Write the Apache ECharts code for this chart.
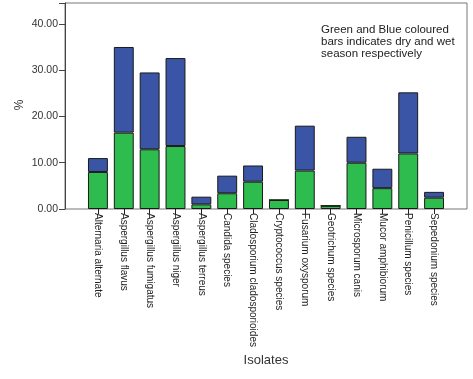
<!DOCTYPE html>
<html><head><meta charset="utf-8">
<script src="https://cdn.jsdelivr.net/npm/echarts@6/dist/echarts.min.js"></script>
<style>html,body{margin:0;padding:0;background:#fff}#c{width:473px;height:379px}</style>
</head><body><div id="c"></div>
<script>
const categories = ["Alternaria alternate","Aspergillus flavus","Aspergillus fumigatus","Aspergillus niger","Aspergillus terreus","Candida species","Cladosporium cladosporioides","Cryptococcus species","Fusarium oxysporum","Geotrichum species","Microsporum canis","Mucor amphibiorum","Penicillum species","Sepedonium species"];
const dryValues = [8.0, 16.5, 12.9, 13.6, 1.0, 3.4, 5.9, 1.95, 8.3, 0.7, 10.0, 4.5, 12.0, 2.45];
const wetValues = [3.0, 18.5, 16.6, 19.0, 1.66, 3.8, 3.5, 0, 9.7, 0, 5.6, 4.2, 13.2, 1.25];
const yTicks = [0, 10, 20, 30, 40];

const chart = echarts.init(document.getElementById('c'), null, {renderer:'canvas'});
const font = 'Arial, "Liberation Sans", sans-serif';
const yMax = 44.5;
chart.setOption({
  animation:false,
  grid:[
    {left:65, top:3, width:402, height:206, show:true, borderColor:'#777', borderWidth:1, backgroundColor:'transparent', containLabel:false, outerBoundsMode:'none'},
    {left:85, top:3, width:362, height:206, show:false, containLabel:false, outerBoundsMode:'none'}
  ],
  xAxis:[
    {gridIndex:0, type:'value', show:false, min:0, max:1},
    {gridIndex:1, type:'category', data:categories,
     axisLine:{show:false},
     axisTick:{show:true, alignWithLabel:true, length:5, lineStyle:{color:'#222'}},
     axisLabel:{rotate:-90, color:'#222', fontSize:10, fontFamily:font, margin:4, interval:0}
    }
  ],
  yAxis:[
    {gridIndex:0, type:'value', min:0, max:yMax, interval:10,
     axisLine:{show:true, lineStyle:{color:'#444'}},
     axisTick:{show:true, length:6, lineStyle:{color:'#444'}},
     splitLine:{show:false},
     axisLabel:{color:'#333', fontSize:10.5, fontFamily:font, margin:7,
       formatter:v=> yTicks.includes(v) ? v.toFixed(2) : ''}
    },
    {gridIndex:1, type:'value', min:0, max:yMax, interval:10, show:false}
  ],
  series:[
    {type:'bar', xAxisIndex:1, yAxisIndex:1, stack:'s', data:dryValues, barWidth:'77%',
     itemStyle:{color:'#2fbc4e', borderColor:'#1a1a1a', borderWidth:1}},
    {type:'bar', xAxisIndex:1, yAxisIndex:1, stack:'s', data:wetValues, barWidth:'77%',
     itemStyle:{color:'#3a55a6', borderColor:'#1a1a1a', borderWidth:1}}
  ],
  graphic:[
    {type:'text', left:321, top:24, style:{text:'Green and Blue coloured\nbars indicates dry and wet\nseason respectively', font:'11.5px '+font, fill:'#222', lineHeight:12}},
    {type:'text', x:266, y:360, style:{text:'Isolates', font:'13px '+font, fill:'#333', align:'center', verticalAlign:'middle'}},
    {type:'text', x:20, y:105, rotation:Math.PI/2, style:{text:'%', font:'12px '+font, fill:'#333', align:'center', verticalAlign:'middle'}}
  ]
});
</script></body></html>
